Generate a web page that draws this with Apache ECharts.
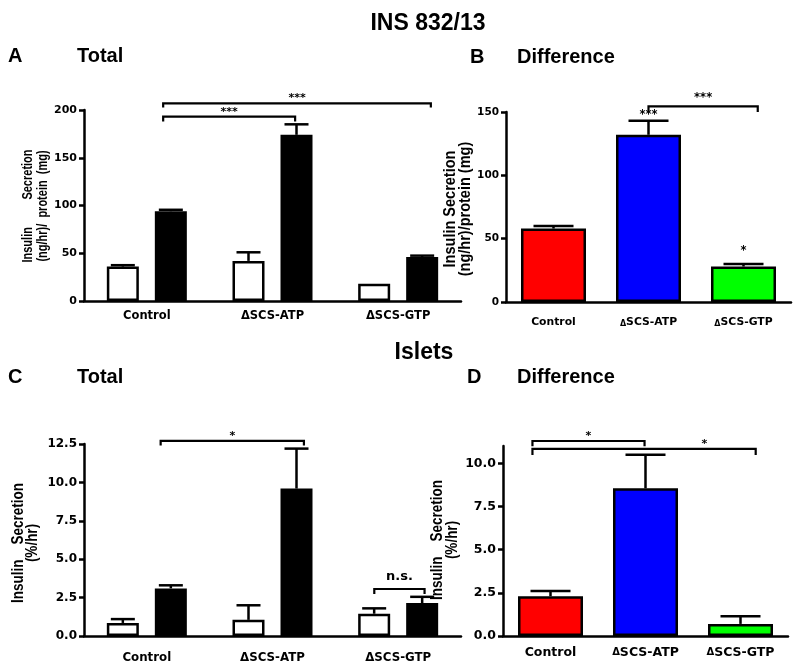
<!DOCTYPE html>
<html><head><meta charset="utf-8">
<script src="https://cdn.jsdelivr.net/npm/echarts@6/dist/echarts.min.js"></script>
<style>html,body{margin:0;padding:0;background:#fff}#c{width:800px;height:668px}</style>
</head><body><div id="c"></div><script>
const categories = ['Control', 'ΔSCS-ATP', 'ΔSCS-GTP'];
// Panel A: INS 832/13 total (open = basal, filled = stimulated)
const insTotalOpen = [36, 42, 18];
const insTotalOpenErr = [1.5, 9, 0];
const insTotalFilled = [94, 174, 46];
const insTotalFilledErr = [1.5, 11, 1.5];
const ticksA = [0, 50, 100, 150, 200];
// Panel B: INS 832/13 difference
const insDiff = [58, 132, 28];
const insDiffErr = [2, 11, 2];
const ticksB = [0, 50, 100, 150];
// Panel C: islets total
const isletTotalOpen = [0.85, 1.05, 1.45];
const isletTotalOpenErr = [0.25, 0.95, 0.35];
const isletTotalFilled = [3.1, 9.6, 2.15];
const isletTotalFilledErr = [0.2, 2.6, 0.4];
const ticksC = [0, 2.5, 5, 7.5, 10, 12.5];
// Panel D: islets difference
const isletDiff = [2.3, 8.55, 0.7];
const isletDiffErr = [0.3, 1.95, 0.45];
const ticksD = [0, 2.5, 5, 7.5, 10];
const axisTopD = 11;
const diffColors = ['#ff0000', '#0000ff', '#00ff00'];
// significance brackets (from/to in category units, y & drop in data units)
const sigA = [
  {from: 0.13, to: 1.18, y: 193, drop: 5, text: '***'},
  {from: 0.13, to: 2.26, y: 207, drop: 4.5, text: '***'}
];
const sigB = [{from: 1.0, to: 2.15, y: 154.5, drop: 4.5, text: '***'}];
const marksB = [{x: 1, y: 147.5, text: '***'}, {x: 2, y: 40, text: '*'}];
const sigC = [
  {from: 0.11, to: 1.25, y: 12.7, drop: 0.3, text: '*'},
  {from: 1.81, to: 2.21, y: 3.06, drop: 0.33, text: 'n.s.'}
];
const sigD = [
  {from: -0.19, to: 0.99, y: 11.29, drop: 0.3, text: '*'},
  {from: -0.19, to: 2.16, y: 10.83, drop: 0.35, text: '*', textAt: 1.62}
];

const BLACK = '#000';
const LAB = '"DejaVu Sans", sans-serif';
const TIT = '"Liberation Sans", Arial, sans-serif';
const AXW = 2.5;

function xAxisCfg(gi, size, margin, rich) {
  const a = {
    gridIndex: gi, type: 'category', data: categories,
    axisLine: {lineStyle: {color: BLACK, width: AXW}},
    axisTick: {alignWithLabel: true, length: 6, lineStyle: {color: BLACK, width: AXW}},
    axisLabel: {interval: 0, hideOverlap: false, color: BLACK, fontFamily: LAB, fontWeight: 'bold', fontSize: size, margin: margin}
  };
  if (rich) {
    a.axisLabel.formatter = v => v.charAt(0) === 'Δ' ? '{d|Δ}' + v.slice(1) : v;
    a.axisLabel.rich = {d: rich};
  }
  return a;
}
function yAxisCfg(gi, ticks, size, dec, top) {
  const a = {
    gridIndex: gi, type: 'value', min: ticks[0], max: top !== undefined ? top : ticks[ticks.length - 1],
    interval: ticks[1] - ticks[0],
    splitLine: {show: false},
    axisLine: {show: true, lineStyle: {color: BLACK, width: AXW}},
    axisTick: {show: true, length: 5, lineStyle: {color: BLACK, width: AXW}},
    axisLabel: {color: BLACK, fontFamily: LAB, fontWeight: 'bold', fontSize: size, margin: 7,
      formatter: v => (ticks.indexOf(v) >= 0 ? (dec ? v.toFixed(1) : String(v)) : '')}
  };
  if (top !== undefined) {
    a.axisTick.customValues = ticks;
    a.axisLabel.customValues = ticks;
  }
  return a;
}
function errSeries(gi, vals, errs, offset, capW) {
  return {
    type: 'custom', xAxisIndex: gi, yAxisIndex: gi, z: 4, silent: true, clip: false,
    data: vals.map((v, i) => [i, v, errs[i]]),
    renderItem(params, api) {
      const i = api.value(0), v = api.value(1), e = api.value(2);
      if (!(e > 0)) return null;
      const p0 = api.coord([i, v]), p1 = api.coord([i, v + e]);
      const cx = p0[0] + offset;
      return {type: 'group', children: [
        {type: 'line', shape: {x1: cx, y1: p0[1], x2: cx, y2: p1[1]}, style: {stroke: BLACK, lineWidth: AXW}},
        {type: 'line', shape: {x1: cx - capW / 2, y1: p1[1], x2: cx + capW / 2, y2: p1[1]}, style: {stroke: BLACK, lineWidth: AXW}}
      ]};
    }
  };
}
function bracketSeries(gi, list, size, gap) {
  return {
    type: 'custom', xAxisIndex: gi, yAxisIndex: gi, z: 5, silent: true, clip: false,
    data: list.map(b => [0, b.y]),
    renderItem(params, api) {
      const b = list[params.dataIndex];
      const o = api.coord([0, b.y]);
      const band = api.size([1, 0])[0];
      const x1 = o[0] + b.from * band, x2 = o[0] + b.to * band;
      const yd = api.coord([0, b.y - b.drop])[1];
      const g = b.text === 'n.s.' ? 12 : gap;
      const tx = b.textAt !== undefined ? o[0] + b.textAt * band : (x1 + x2) / 2;
      return {type: 'group', children: [
        {type: 'polyline', shape: {points: [[x1, yd], [x1, o[1]], [x2, o[1]], [x2, yd]]}, style: {stroke: BLACK, lineWidth: 2.2, fill: null}},
        {type: 'text', x: tx, y: o[1] - g, style: {text: b.text, font: 'bold ' + (b.text === 'n.s.' ? 13 : size) + 'px ' + LAB, fill: BLACK, align: 'center', verticalAlign: 'middle'}}
      ]};
    }
  };
}
function markSeries(gi, list, size) {
  return {
    type: 'custom', xAxisIndex: gi, yAxisIndex: gi, z: 5, silent: true, clip: false,
    data: list.map(m => [m.x, m.y]),
    renderItem(params, api) {
      const m = list[params.dataIndex];
      const p = api.coord([api.value(0), api.value(1)]);
      return {type: 'text', x: p[0], y: p[1], style: {text: m.text, font: 'bold ' + size + 'px ' + LAB, fill: BLACK, align: 'center', verticalAlign: 'middle'}};
    }
  };
}
function pairBars(gi, open, filled, w) {
  return [
    {type: 'bar', xAxisIndex: gi, yAxisIndex: gi, data: open, barWidth: w, barGap: '50%', silent: true,
     itemStyle: {color: '#fff', borderColor: BLACK, borderWidth: AXW}},
    {type: 'bar', xAxisIndex: gi, yAxisIndex: gi, data: filled, barWidth: w, barGap: '50%', silent: true,
     itemStyle: {color: BLACK, borderColor: BLACK, borderWidth: AXW}}
  ];
}
function diffBars(gi, vals, w) {
  return {type: 'bar', xAxisIndex: gi, yAxisIndex: gi, barWidth: w, silent: true,
    data: vals.map((v, i) => ({value: v, itemStyle: {color: diffColors[i]}})),
    itemStyle: {borderColor: BLACK, borderWidth: AXW}};
}
const T = (text, x, y, size, align) => ({type: 'text', x, y, style: {text, font: 'bold ' + size + 'px ' + TIT, fill: BLACK, align: align || 'left', verticalAlign: 'middle'}});
const YN = (text, x, y, size, lh, sy) => ({type: 'text', x, y, rotation: Math.PI / 2, scaleY: sy, z: 10,
  style: {text, font: 'bold ' + size + 'px ' + TIT, fill: BLACK, align: 'center', verticalAlign: 'middle', lineHeight: lh}});

const BW = 32, OFF = 24, CAP = 24, BW2 = 65, CAP2 = 40;
const chart = echarts.init(document.getElementById('c'));
chart.setOption({
  animation: false,
  grid: [
    {left: 84, top: 110, width: 377, height: 191},
    {left: 506, top: 112, width: 285, height: 190},
    {left: 84, top: 444, width: 377, height: 192},
    {left: 503, top: 446, width: 285, height: 190}
  ],
  xAxis: [
    xAxisCfg(0, 11.5, 9),
    xAxisCfg(1, 10.8, 15, {fontSize: 8, fontFamily: LAB, fontWeight: 'bold', color: BLACK, verticalAlign: 'bottom'}),
    xAxisCfg(2, 11.8, 16),
    xAxisCfg(3, 12.5, 10, {fontSize: 10, fontFamily: LAB, fontWeight: 'bold', color: BLACK})
  ],
  yAxis: [
    yAxisCfg(0, ticksA, 11, false),
    yAxisCfg(1, ticksB, 10.5, false),
    yAxisCfg(2, ticksC, 12, true),
    yAxisCfg(3, ticksD, 12.5, true, axisTopD)
  ],
  graphic: [
    T('INS 832/13', 428, 24, 23, 'center'),
    T('A', 8, 56, 20), T('Total', 77, 56, 20),
    T('B', 470, 57, 20), T('Difference', 517, 57, 20),
    T('Islets', 424, 353, 23, 'center'),
    T('C', 8, 377, 20), T('Total', 77, 377, 20),
    T('D', 467, 377, 20), T('Difference', 517, 377, 20),
    YN('Insulin         Secretion\n(ng/hr)/  protein  (mg)', 35.5, 206, 11, 12, 1.25),
    YN('Insulin Secretion\n(ng/hr)/protein (mg)', 457.5, 209, 14.5, 13, 1.15),
    YN('Insulin    Secretion\n(%/hr)', 25.5, 543, 13.5, 12, 1.2),
    YN('Insulin    Secretion\n(%/hr)', 445, 540, 13.5, 12, 1.2)
  ],
  series: [
    ...pairBars(0, insTotalOpen, insTotalFilled, BW),
    errSeries(0, insTotalOpen, insTotalOpenErr, -OFF, CAP),
    errSeries(0, insTotalFilled, insTotalFilledErr, OFF, CAP),
    bracketSeries(0, sigA, 11, 5),
    diffBars(1, insDiff, BW2),
    errSeries(1, insDiff, insDiffErr, 0, CAP2),
    bracketSeries(1, sigB, 11.5, 8),
    markSeries(1, marksB, 11.5),
    ...pairBars(2, isletTotalOpen, isletTotalFilled, BW),
    errSeries(2, isletTotalOpen, isletTotalOpenErr, -OFF, CAP),
    errSeries(2, isletTotalFilled, isletTotalFilledErr, OFF, CAP),
    bracketSeries(2, sigC, 11, 5),
    diffBars(3, isletDiff, BW2),
    errSeries(3, isletDiff, isletDiffErr, 0, CAP2),
    bracketSeries(3, sigD, 11, 5)
  ]
});
</script></body></html>
